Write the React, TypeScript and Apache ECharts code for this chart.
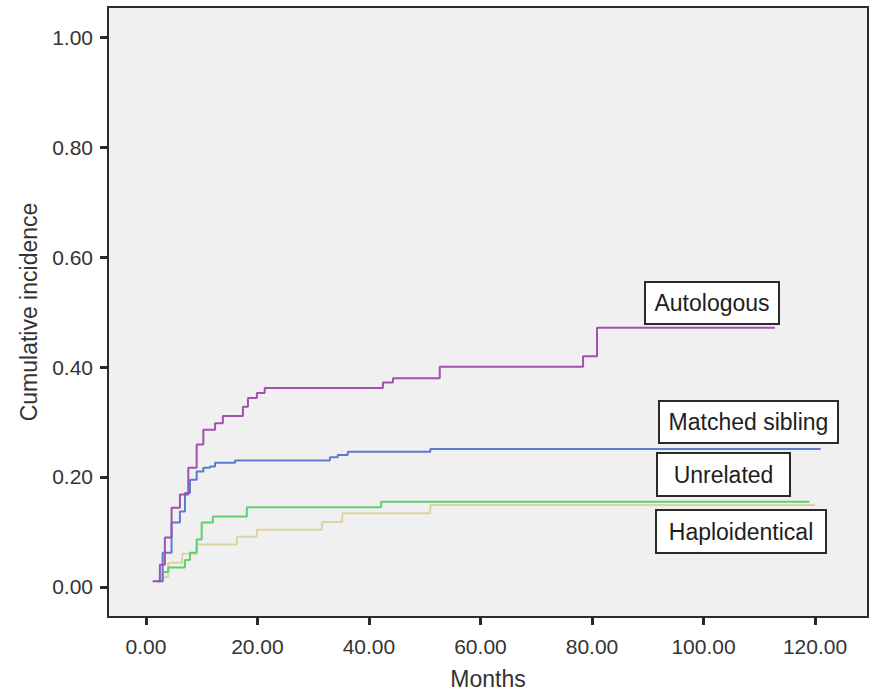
import { useRef, useEffect } from 'react';
import * as echarts from 'echarts';

// step curves: x = months at which the incidence changes, y = new cumulative incidence
const autologousX = [1.2, 2.5, 3.4, 4.6, 6.1, 7.6, 9.1, 10.3, 12.4, 13.8, 17.4, 18.3, 19.9, 21.3, 42.5, 44.3, 52.7, 78.4, 80.9, 112.8];
const autologousY = [0.01, 0.04, 0.09, 0.144, 0.168, 0.217, 0.259, 0.286, 0.298, 0.311, 0.328, 0.344, 0.353, 0.362, 0.372, 0.38, 0.401, 0.42, 0.472, 0.472];

const siblingX = [1.9, 3.0, 4.6, 6.1, 7.0, 7.9, 9.1, 10.3, 11.5, 12.4, 16.0, 33.0, 34.4, 36.2, 51.0, 121.0];
const siblingY = [0.01, 0.062, 0.117, 0.137, 0.171, 0.195, 0.21, 0.217, 0.219, 0.226, 0.23, 0.236, 0.24, 0.246, 0.251, 0.251];

const unrelatedX = [2.5, 3.0, 4.0, 7.0, 7.9, 9.1, 10.0, 12.0, 18.1, 42.2, 119.0];
const unrelatedY = [0.01, 0.027, 0.035, 0.049, 0.062, 0.086, 0.117, 0.128, 0.145, 0.155, 0.155];

const haploX = [2.9, 4.0, 6.5, 9.1, 16.3, 19.9, 31.6, 35.2, 51.0, 120.0];
const haploY = [0.018, 0.044, 0.06, 0.077, 0.091, 0.104, 0.118, 0.134, 0.149, 0.149];

const xTicks = [0, 20, 40, 60, 80, 100, 120];
const yTicks = [0, 0.2, 0.4, 0.6, 0.8, 1.0];

const groupNames = ['Autologous', 'Matched sibling', 'Unrelated', 'Haploidentical'];
const groupColors = ['#a152ad', '#5b7bcf', '#5fcf70', '#dcd3a2'];

// label boxes in pixels: [left, top, width, height]
const labelBoxes = [
  [645, 282, 134, 42],
  [659, 401, 179, 42],
  [657, 453, 133, 43],
  [656, 510, 170, 43],
];

const FONT = '"Liberation Sans", Arial, sans-serif';

function pairs(xs: number[], ys: number[]) {
  return xs.map((x, i) => [x, ys[i]]);
}

export default function App() {
  const ref = useRef<HTMLDivElement>(null);

  useEffect(() => {
    if (!ref.current) return;
    const chart = echarts.init(ref.current, undefined, { renderer: 'svg' });

    const curves = [
      pairs(autologousX, autologousY),
      pairs(siblingX, siblingY),
      pairs(unrelatedX, unrelatedY),
      pairs(haploX, haploY),
    ];

    const axisCommon = {
      type: 'value',
      nameLocation: 'middle',
      nameTextStyle: { fontSize: 23, color: '#333', fontFamily: FONT },
      splitLine: { show: false },
      axisLine: { show: true, onZero: false, lineStyle: { color: '#2a2a2a', width: 2 } },
    };

    const tickLabel = {
      fontSize: 21,
      color: '#333',
      fontFamily: FONT,
      formatter: (v: number) => v.toFixed(2),
    };

    chart.setOption({
      animation: false,
      backgroundColor: '#ffffff',
      textStyle: { fontFamily: FONT },
      grid: {
        left: 108,
        top: 7,
        right: 1,
        bottom: 74,
        outerBoundsMode: 'none',
        containLabel: false,
        show: true,
        backgroundColor: '#f0f0f0',
        borderColor: '#2a2a2a',
        borderWidth: 2,
      },
      xAxis: {
        ...axisCommon,
        min: -6.8,
        max: 129.5,
        name: 'Months',
        nameGap: 50,
        axisTick: { show: true, customValues: xTicks, length: 8, lineStyle: { color: '#2a2a2a', width: 3 } },
        axisLabel: { ...tickLabel, customValues: xTicks, margin: 19 },
      },
      yAxis: {
        ...axisCommon,
        min: -0.055,
        max: 1.056,
        name: 'Cumulative incidence',
        nameGap: 68,
        nameRotate: 90,
        axisTick: { show: true, customValues: yTicks, length: 8, lineStyle: { color: '#2a2a2a', width: 3 } },
        axisLabel: { ...tickLabel, customValues: yTicks, margin: 15 },
      },
      series: curves.map((data, i) => ({
        name: groupNames[i],
        type: 'line',
        step: 'end',
        data,
        showSymbol: false,
        lineStyle: { color: groupColors[i], width: 2 },
        z: 10 - i,
      })),
      graphic: groupNames.flatMap((name, i) => {
        const [l, t, w, h] = labelBoxes[i];
        return [
          {
            type: 'rect',
            shape: { x: l, y: t, width: w, height: h },
            style: { fill: '#ffffff', stroke: '#2a2a2a', lineWidth: 2 },
            z: 100,
          },
          {
            type: 'text',
            x: l + w / 2,
            y: t + h / 2,
            style: {
              text: name,
              fill: '#1e1e1e',
              font: `23px ${FONT}`,
              textAlign: 'center',
              textVerticalAlign: 'middle',
            },
            z: 101,
          },
        ];
      }),
    });

    return () => {
      chart.dispose();
    };
  }, []);

  return (
    <div
      ref={ref}
      style={{ position: 'absolute', left: 0, top: 0, width: 869, height: 691 }}
    />
  );
}
